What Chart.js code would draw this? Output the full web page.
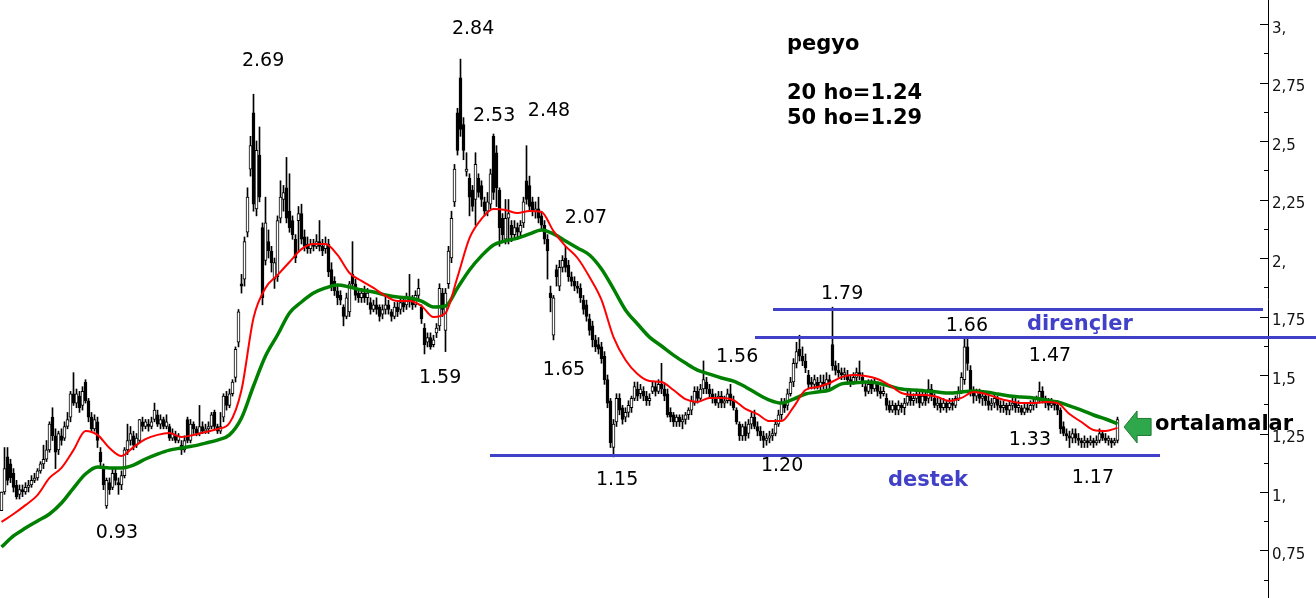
<!DOCTYPE html>
<html><head><meta charset="utf-8">
<script src="https://cdn.jsdelivr.net/npm/chart.js@4.4.0/dist/chart.umd.min.js"></script>
<style>html,body{margin:0;padding:0;background:#fff;overflow:hidden}canvas{display:block}</style>
</head><body>
<canvas id="c" width="1316" height="598"></canvas>
<script>
// ---- daily candles (one entry per session) ----
const open = [0.92,1.00,1.15,1.12,1.08,1.03,0.99,1.01,1.00,1.02,1.03,1.05,1.06,1.09,1.12,1.14,1.18,1.32,1.24,1.18,1.24,1.23,1.28,1.32,1.42,1.38,1.41,1.37,1.47,1.39,1.32,1.27,1.30,1.17,1.10,0.94,1.04,1.02,1.08,1.04,1.03,1.07,1.18,1.22,
1.24,1.20,1.22,1.30,1.28,1.29,1.28,1.31,1.33,1.29,1.31,1.28,1.28,1.23,1.24,1.22,1.20,1.18,1.31,1.22,1.29,1.27,1.25,1.28,1.26,1.27,1.28,1.34,1.28,1.26,1.32,1.41,1.37,1.42,1.49,1.64,1.89,1.91,2.11,2.38,2.62,2.21,2.44,2.13,1.99,2.07,2.03,1.91,1.92,2.17,2.25,2.30,2.20,2.16,2.08,2.16,
2.19,2.09,2.06,2.04,2.06,2.05,2.07,2.05,2.04,2.06,1.95,1.90,1.86,1.84,1.79,1.75,1.77,1.93,1.89,1.85,1.83,1.85,1.83,1.81,1.78,1.80,1.79,1.76,1.78,1.80,1.77,1.75,1.79,1.78,1.81,1.80,1.83,1.82,1.80,1.84,1.79,1.70,1.64,1.66,1.63,1.68,1.71,1.85,1.69,1.89,
2.00,2.24,2.62,2.77,2.57,2.37,2.34,2.29,2.25,2.34,2.31,2.24,2.20,2.23,2.52,2.45,2.29,2.17,2.08,2.17,2.14,2.10,2.13,2.11,2.15,2.33,2.31,2.24,2.20,2.21,2.18,2.14,2.08,1.85,1.67,1.95,1.88,1.96,2.00,1.97,1.92,1.90,1.88,1.87,1.82,1.80,1.74,1.71,1.65,1.63,
1.62,1.58,1.48,1.39,1.19,1.30,1.40,1.36,1.32,1.34,1.36,1.40,1.44,1.42,1.43,1.41,1.39,1.43,1.45,1.43,1.46,1.44,1.42,1.34,1.33,1.30,1.32,1.30,1.31,1.33,1.35,1.38,1.43,1.40,1.44,1.47,1.44,1.42,1.40,1.38,1.41,1.38,1.39,1.42,1.39,1.35,1.29,1.24,1.28,1.25,
1.29,1.32,1.28,1.26,1.24,1.22,1.23,1.24,1.25,1.29,1.33,1.38,1.37,1.42,1.47,1.55,1.61,1.58,1.56,1.50,1.47,1.46,1.47,1.45,1.47,1.46,1.48,1.63,1.54,1.52,1.51,1.50,1.50,1.48,1.47,1.49,1.51,1.49,1.45,1.43,1.46,1.44,1.46,1.43,1.42,1.40,1.37,1.35,1.37,1.35,
1.37,1.36,1.38,1.41,1.39,1.40,1.41,1.38,1.41,1.40,1.44,1.40,1.37,1.38,1.36,1.38,1.36,1.38,1.37,1.40,1.43,1.48,1.62,1.52,1.43,1.41,1.42,1.40,1.41,1.39,1.37,1.38,1.40,1.37,1.36,1.37,1.35,1.37,1.38,1.36,1.36,1.34,1.36,1.35,1.37,1.38,1.40,1.43,1.40,1.38,
1.37,1.38,1.37,1.35,1.28,1.25,1.24,1.23,1.25,1.23,1.22,1.21,1.22,1.21,1.22,1.21,1.22,1.25,1.23,1.22,1.22,1.21,1.22];
const high = [1.00,1.19,1.19,1.14,1.10,1.05,1.03,1.03,1.04,1.05,1.07,1.08,1.10,1.13,1.20,1.22,1.30,1.36,1.27,1.26,1.27,1.30,1.34,1.43,1.51,1.44,1.43,1.45,1.48,1.40,1.34,1.33,1.32,1.19,1.12,1.06,1.06,1.10,1.10,1.06,1.09,1.19,1.29,1.28,
1.26,1.25,1.31,1.32,1.31,1.31,1.32,1.38,1.35,1.33,1.32,1.33,1.29,1.27,1.26,1.25,1.22,1.24,1.32,1.31,1.30,1.28,1.37,1.30,1.29,1.30,1.34,1.35,1.29,1.34,1.42,1.43,1.44,1.48,1.62,1.78,1.93,2.09,2.30,2.52,2.70,2.50,2.56,2.15,2.26,2.12,2.05,2.00,2.18,2.33,2.31,2.43,2.36,2.18,2.10,2.22,
2.23,2.12,2.09,2.08,2.08,2.10,2.16,2.08,2.09,2.08,1.98,1.92,1.88,1.86,1.80,1.85,1.90,2.07,1.91,1.87,1.87,1.88,1.87,1.83,1.82,1.83,1.80,1.80,1.84,1.82,1.78,1.81,1.81,1.83,1.83,1.85,1.93,1.84,1.86,1.91,1.80,1.72,1.68,1.68,1.67,1.72,1.89,1.87,1.87,2.05,
2.20,2.40,2.64,2.85,2.60,2.45,2.36,2.31,2.45,2.36,2.33,2.26,2.28,2.38,2.53,2.48,2.30,2.19,2.25,2.25,2.16,2.16,2.15,2.16,2.26,2.48,2.35,2.26,2.24,2.26,2.20,2.16,2.10,1.88,1.84,1.97,1.99,2.01,2.05,1.99,1.94,1.92,1.90,1.89,1.84,1.82,1.76,1.73,1.67,1.66,
1.64,1.60,1.50,1.40,1.31,1.42,1.42,1.37,1.36,1.39,1.41,1.47,1.47,1.46,1.45,1.43,1.42,1.47,1.47,1.48,1.55,1.46,1.44,1.36,1.34,1.33,1.33,1.33,1.34,1.36,1.41,1.45,1.45,1.46,1.56,1.49,1.46,1.44,1.42,1.43,1.43,1.41,1.44,1.46,1.41,1.36,1.30,1.29,1.30,1.31,
1.34,1.35,1.30,1.28,1.26,1.25,1.26,1.27,1.31,1.35,1.40,1.40,1.44,1.49,1.57,1.64,1.67,1.62,1.59,1.52,1.49,1.50,1.49,1.50,1.50,1.51,1.50,1.79,1.56,1.55,1.53,1.53,1.52,1.50,1.51,1.53,1.56,1.51,1.47,1.48,1.48,1.49,1.47,1.45,1.45,1.42,1.39,1.39,1.38,1.39,
1.38,1.40,1.43,1.43,1.42,1.44,1.43,1.43,1.43,1.48,1.46,1.42,1.40,1.40,1.40,1.39,1.40,1.40,1.41,1.45,1.51,1.66,1.66,1.54,1.45,1.44,1.44,1.43,1.42,1.41,1.40,1.42,1.41,1.39,1.39,1.38,1.39,1.40,1.40,1.39,1.37,1.38,1.38,1.39,1.40,1.41,1.47,1.45,1.41,1.40,
1.40,1.39,1.39,1.36,1.30,1.27,1.26,1.27,1.27,1.25,1.23,1.24,1.23,1.24,1.23,1.24,1.27,1.26,1.25,1.24,1.23,1.23,1.32];
const low = [0.92,0.99,1.03,1.04,1.00,0.97,0.97,0.98,0.99,1.00,1.02,1.04,1.05,1.08,1.10,1.13,1.17,1.22,1.10,1.16,1.20,1.22,1.27,1.30,1.37,1.36,1.34,1.35,1.38,1.30,1.26,1.26,1.19,1.11,1.01,0.93,0.99,1.01,1.03,0.99,1.01,1.06,1.16,1.20,
1.18,1.19,1.21,1.26,1.27,1.26,1.27,1.30,1.28,1.27,1.27,1.27,1.22,1.22,1.21,1.21,1.16,1.17,1.21,1.21,1.25,1.24,1.24,1.25,1.25,1.25,1.27,1.27,1.25,1.25,1.30,1.35,1.36,1.41,1.47,1.62,1.85,1.88,2.09,2.35,2.20,2.18,2.24,1.80,1.97,2.00,1.94,1.87,1.90,2.15,2.20,2.15,2.11,2.08,1.98,2.03,
2.06,2.03,2.02,2.02,2.03,2.04,2.03,2.01,2.02,1.92,1.86,1.84,1.80,1.80,1.71,1.74,1.75,1.87,1.82,1.81,1.81,1.81,1.80,1.76,1.77,1.76,1.73,1.74,1.76,1.76,1.73,1.74,1.75,1.76,1.77,1.78,1.79,1.78,1.79,1.82,1.72,1.59,1.62,1.61,1.62,1.66,1.69,1.75,1.60,1.87,
1.98,2.22,2.44,2.52,2.42,2.35,2.18,2.20,2.14,2.26,2.22,2.18,2.18,2.21,2.25,2.22,2.05,2.07,2.06,2.06,2.07,2.08,2.08,2.09,2.13,2.23,2.20,2.18,2.17,2.15,2.12,2.06,1.91,1.77,1.65,1.88,1.86,1.94,1.94,1.90,1.88,1.86,1.85,1.81,1.76,1.73,1.67,1.62,1.60,1.59,
1.55,1.46,1.36,1.19,1.15,1.28,1.33,1.29,1.30,1.32,1.34,1.39,1.39,1.40,1.39,1.37,1.37,1.42,1.41,1.42,1.42,1.39,1.32,1.30,1.28,1.28,1.28,1.27,1.29,1.31,1.33,1.37,1.38,1.39,1.42,1.42,1.40,1.38,1.37,1.36,1.36,1.36,1.38,1.37,1.35,1.29,1.22,1.22,1.22,1.23,
1.27,1.27,1.24,1.22,1.19,1.20,1.21,1.22,1.24,1.28,1.31,1.34,1.35,1.41,1.45,1.53,1.56,1.54,1.51,1.44,1.44,1.44,1.44,1.43,1.44,1.44,1.44,1.52,1.50,1.49,1.48,1.48,1.46,1.45,1.46,1.47,1.48,1.45,1.41,1.42,1.42,1.43,1.41,1.40,1.41,1.35,1.34,1.34,1.33,1.33,
1.34,1.33,1.37,1.37,1.37,1.38,1.36,1.37,1.37,1.38,1.39,1.36,1.35,1.34,1.35,1.34,1.35,1.35,1.36,1.39,1.42,1.46,1.52,1.41,1.38,1.39,1.38,1.37,1.37,1.35,1.35,1.36,1.35,1.34,1.34,1.33,1.33,1.35,1.34,1.34,1.33,1.33,1.34,1.34,1.35,1.36,1.38,1.38,1.36,1.35,
1.36,1.35,1.33,1.25,1.24,1.22,1.19,1.21,1.21,1.20,1.19,1.19,1.19,1.20,1.19,1.20,1.21,1.22,1.21,1.20,1.19,1.20,1.21];
const close = [1.00,1.10,1.05,1.06,1.02,0.98,1.01,1.00,1.02,1.03,1.05,1.06,1.09,1.12,1.14,1.18,1.29,1.24,1.17,1.25,1.22,1.28,1.31,1.42,1.38,1.42,1.36,1.43,1.39,1.32,1.27,1.31,1.22,1.13,1.03,1.05,1.01,1.08,1.05,1.03,1.07,1.18,1.22,1.25,
1.20,1.23,1.31,1.28,1.30,1.28,1.30,1.35,1.29,1.31,1.28,1.30,1.23,1.25,1.22,1.24,1.18,1.22,1.22,1.29,1.27,1.25,1.28,1.26,1.27,1.28,1.33,1.28,1.26,1.28,1.41,1.37,1.42,1.47,1.61,1.77,1.88,2.07,2.26,2.48,2.23,2.46,2.26,1.83,2.15,2.03,1.98,1.98,2.16,2.26,2.28,2.17,2.13,2.10,2.00,2.19,
2.08,2.05,2.04,2.06,2.05,2.07,2.05,2.03,2.06,1.94,1.88,1.86,1.83,1.82,1.75,1.83,1.89,1.89,1.84,1.83,1.85,1.83,1.85,1.78,1.80,1.78,1.75,1.78,1.80,1.78,1.75,1.79,1.77,1.81,1.79,1.83,1.82,1.80,1.84,1.87,1.74,1.63,1.66,1.62,1.65,1.70,1.87,1.78,1.85,2.03,
2.17,2.38,2.46,2.55,2.46,2.38,2.26,2.22,2.40,2.28,2.25,2.20,2.24,2.36,2.28,2.30,2.13,2.10,2.17,2.19,2.10,2.13,2.11,2.14,2.24,2.25,2.22,2.20,2.21,2.17,2.14,2.08,2.03,1.83,1.83,1.92,1.96,1.99,1.96,1.92,1.90,1.88,1.87,1.83,1.78,1.75,1.69,1.65,1.62,1.61,
1.57,1.48,1.38,1.21,1.29,1.40,1.35,1.31,1.34,1.37,1.40,1.45,1.41,1.44,1.41,1.39,1.40,1.45,1.43,1.46,1.44,1.41,1.33,1.32,1.30,1.32,1.30,1.31,1.33,1.35,1.39,1.43,1.40,1.44,1.48,1.44,1.42,1.40,1.38,1.41,1.38,1.39,1.42,1.39,1.36,1.30,1.24,1.28,1.24,1.29,
1.32,1.28,1.26,1.24,1.22,1.23,1.24,1.25,1.29,1.33,1.38,1.36,1.42,1.47,1.55,1.60,1.58,1.56,1.53,1.46,1.46,1.48,1.45,1.47,1.46,1.48,1.46,1.54,1.52,1.51,1.50,1.51,1.48,1.47,1.49,1.51,1.50,1.47,1.43,1.46,1.44,1.47,1.43,1.42,1.43,1.37,1.35,1.37,1.35,1.37,
1.36,1.38,1.41,1.39,1.40,1.42,1.38,1.41,1.39,1.44,1.41,1.37,1.38,1.36,1.38,1.36,1.38,1.37,1.40,1.43,1.49,1.62,1.55,1.43,1.41,1.43,1.40,1.41,1.39,1.37,1.38,1.40,1.37,1.36,1.37,1.35,1.37,1.38,1.36,1.37,1.34,1.36,1.35,1.37,1.38,1.40,1.43,1.40,1.38,1.37,
1.38,1.37,1.35,1.27,1.25,1.24,1.23,1.25,1.23,1.22,1.21,1.22,1.21,1.22,1.21,1.22,1.25,1.23,1.22,1.23,1.21,1.22,1.31];

// ---- moving averages, read every 4th session ----
const maStep = 4;
const ma20 = [0.872,0.906,0.944,0.987,1.060,1.103,1.179,1.261,1.244,1.188,1.154,1.192,1.226,1.244,1.252,1.235,1.244,1.256,1.269,1.295,
1.436,1.744,1.872,1.927,1.983,2.038,2.060,2.060,2.013,1.936,1.902,1.872,1.838,1.816,1.816,1.795,1.748,1.765,1.919,2.085,
2.167,2.209,2.205,2.192,2.201,2.197,2.115,2.051,2.000,1.919,1.821,1.662,1.564,1.504,1.474,1.470,1.436,1.397,1.385,1.402,
1.402,1.393,1.355,1.333,1.303,1.303,1.363,1.436,1.449,1.466,1.491,1.500,1.496,1.483,1.457,1.423,1.415,1.415,1.406,1.389,
1.402,1.427,1.419,1.402,1.389,1.380,1.380,1.385,1.380,1.333,1.299,1.265,1.261,1.274];
const ma50 = [0.765,0.812,0.846,0.876,0.906,0.953,1.017,1.077,1.107,1.103,1.103,1.115,1.141,1.162,1.179,1.188,1.197,1.209,1.222,1.244,
1.316,1.453,1.581,1.671,1.765,1.812,1.850,1.872,1.885,1.876,1.863,1.855,1.842,1.833,1.829,1.816,1.791,1.795,1.872,1.949,
2.009,2.056,2.073,2.085,2.103,2.120,2.103,2.073,2.043,2.013,1.953,1.868,1.778,1.718,1.662,1.624,1.585,1.551,1.521,1.504,
1.487,1.474,1.449,1.419,1.393,1.380,1.397,1.419,1.427,1.436,1.462,1.466,1.470,1.466,1.453,1.440,1.436,1.432,1.427,1.423,
1.427,1.432,1.427,1.419,1.410,1.406,1.402,1.393,1.385,1.368,1.350,1.329,1.312,1.291];

// ---- axis tick labels ----
const tickValues = [0.75,1,1.25,1.5,1.75,2,2.25,2.5,2.75,3];
const tickLabels = ['0,75','1,','1,25','1,5','1,75','2,','2,25','2,5','2,75','3,'];

// ---- drawn levels (resistance / support) ----
const levelVal  = [1.782, 1.662, 1.158];
const levelFrom = [257.2, 251.2, 162.8];
const levelTo   = [420.5, 438.2, 386.2];

// ---- price annotations ----
const noteText = ['2.69','2.84','2.53','2.48','2.07','1.79','1.66','1.56','1.47','1.65','1.59','0.93','1.15','1.20','1.33','1.17'];
const noteIdx  = [87.2,157.2,164.2,182.5,194.8,280.2,321.8,245.2,349.5,187.5,146.2,38.5,205.2,260.2,342.8,363.8];
const noteVal  = [2.842,2.979,2.607,2.628,2.171,1.846,1.709,1.577,1.581,1.521,1.487,0.825,1.051,1.111,1.222,1.060];

const infoText = ['pegyo','20 ho=1.24','50 ho=1.29'];
const infoIdx = 261.8;
const infoVal = [2.889, 2.679, 2.573];
const blueText = ['dirençler','destek'];
const blueIdx = [341.8, 295.5];
const blueVal = [1.692, 1.026];
const maNote = 'ortalamalar';
const maNoteIdx = 384.5, maNoteVal = 1.265;
const arrowIdx = 374.2, arrowVal = 1.278;

const BLUE = '#4040c8';

const overlay = {
  id: 'overlay',
  afterDraw(chart) {
    const {ctx, scales: {x, y}} = chart;
    const px = v => x.getPixelForValue(v), py = v => y.getPixelForValue(v);
    ctx.save();
    // inward tick marks on the price axis
    ctx.fillStyle = '#000';
    y.ticks.forEach(t => {
      const major = tickValues.some(v => Math.abs(v - t.value) < 1e-6);
      const len = major ? 8 : 4;
      ctx.fillRect(Math.round(y.left) - len, Math.round(py(t.value)), len, 1);
    });
    // level lines
    ctx.fillStyle = BLUE;
    levelVal.forEach((v, k) => {
      const x0 = px(levelFrom[k]), x1 = px(levelTo[k]);
      ctx.fillRect(Math.round(x0), Math.round(py(v)) - 1, Math.round(x1 - x0), 3);
    });
    // price notes
    ctx.fillStyle = '#000';
    ctx.font = '19px "DejaVu Sans"';
    ctx.textAlign = 'center';
    ctx.textBaseline = 'middle';
    noteText.forEach((t, k) => ctx.fillText(t, px(noteIdx[k]), py(noteVal[k])));
    // info block
    ctx.font = 'bold 21px "DejaVu Sans"';
    ctx.textAlign = 'left';
    ctx.textBaseline = 'alphabetic';
    infoText.forEach((t, k) => ctx.fillText(t, px(infoIdx), py(infoVal[k])));
    // blue labels
    ctx.fillStyle = BLUE;
    blueText.forEach((t, k) => ctx.fillText(t, px(blueIdx[k]), py(blueVal[k])));
    // arrow
    const ax = px(arrowIdx), ay = py(arrowVal);
    ctx.beginPath();
    ctx.moveTo(ax, ay);
    ctx.lineTo(ax + 13, ay - 16);
    ctx.lineTo(ax + 13, ay - 8.5);
    ctx.lineTo(ax + 27, ay - 8.5);
    ctx.lineTo(ax + 27, ay + 8.5);
    ctx.lineTo(ax + 13, ay + 8.5);
    ctx.lineTo(ax + 13, ay + 16);
    ctx.closePath();
    ctx.fillStyle = '#2fa84c';
    ctx.fill();
    ctx.strokeStyle = '#1d7a34';
    ctx.lineWidth = 1;
    ctx.stroke();
    // MA note
    ctx.fillStyle = '#000';
    ctx.fillText(maNote, px(maNoteIdx), py(maNoteVal));
    ctx.restore();
  }
};

const bodyData = close.map((c, i) => ({x: i, y: [open[i], c]}));
const wickData = close.map((c, i) => ({x: i, y: [low[i], high[i]]}));
const ma20Data = ma20.map((v, k) => ({x: k * maStep, y: v}));
const ma50Data = ma50.map((v, k) => ({x: k * maStep, y: v}));

new Chart(document.getElementById('c'), {
  type: 'bar',
  data: {
    datasets: [
      {type: 'line', data: ma20Data, borderColor: '#ff0000', borderWidth: 2, pointRadius: 0, cubicInterpolationMode: 'monotone', order: 0},
      {type: 'line', data: ma50Data, borderColor: '#008000', borderWidth: 3.5, pointRadius: 0, cubicInterpolationMode: 'monotone', order: 1},
      {type: 'bar', data: bodyData, backgroundColor: close.map((c, i) => c >= open[i] ? '#ffffff' : '#000000'),
       borderColor: '#000', borderWidth: 1, borderSkipped: false, barThickness: 3, grouped: false, minBarLength: 1, order: 2},
      {type: 'bar', data: wickData, backgroundColor: '#000', borderWidth: 0, barThickness: 1, grouped: false, order: 3}
    ]
  },
  options: {
    responsive: false,
    animation: false,
    devicePixelRatio: 1,
    layout: {padding: 0},
    plugins: {legend: {display: false}, tooltip: {enabled: false}},
    scales: {
      x: {type: 'linear', display: false, min: -0.5, max: 422.17, offset: false},
      y: {
        position: 'right', min: 0.547, max: 3.1026,
        ticks: {
          stepSize: 0.125, includeBounds: false, autoSkip: false, padding: 4, labelOffset: 5,
          color: '#111', font: {family: 'DejaVu Sans', size: 15},
          callback: v => { const k = tickValues.findIndex(t => Math.abs(t - v) < 1e-6); return k < 0 ? '' : tickLabels[k]; }
        },
        grid: {display: true, drawOnChartArea: false, drawTicks: false},
        border: {display: true, color: '#000', width: 1},
        afterFit(s) { s.width = 48; s.paddingTop = 0; s.paddingBottom = 0; }
      }
    }
  },
  plugins: [overlay]
});
</script>
</body></html>
